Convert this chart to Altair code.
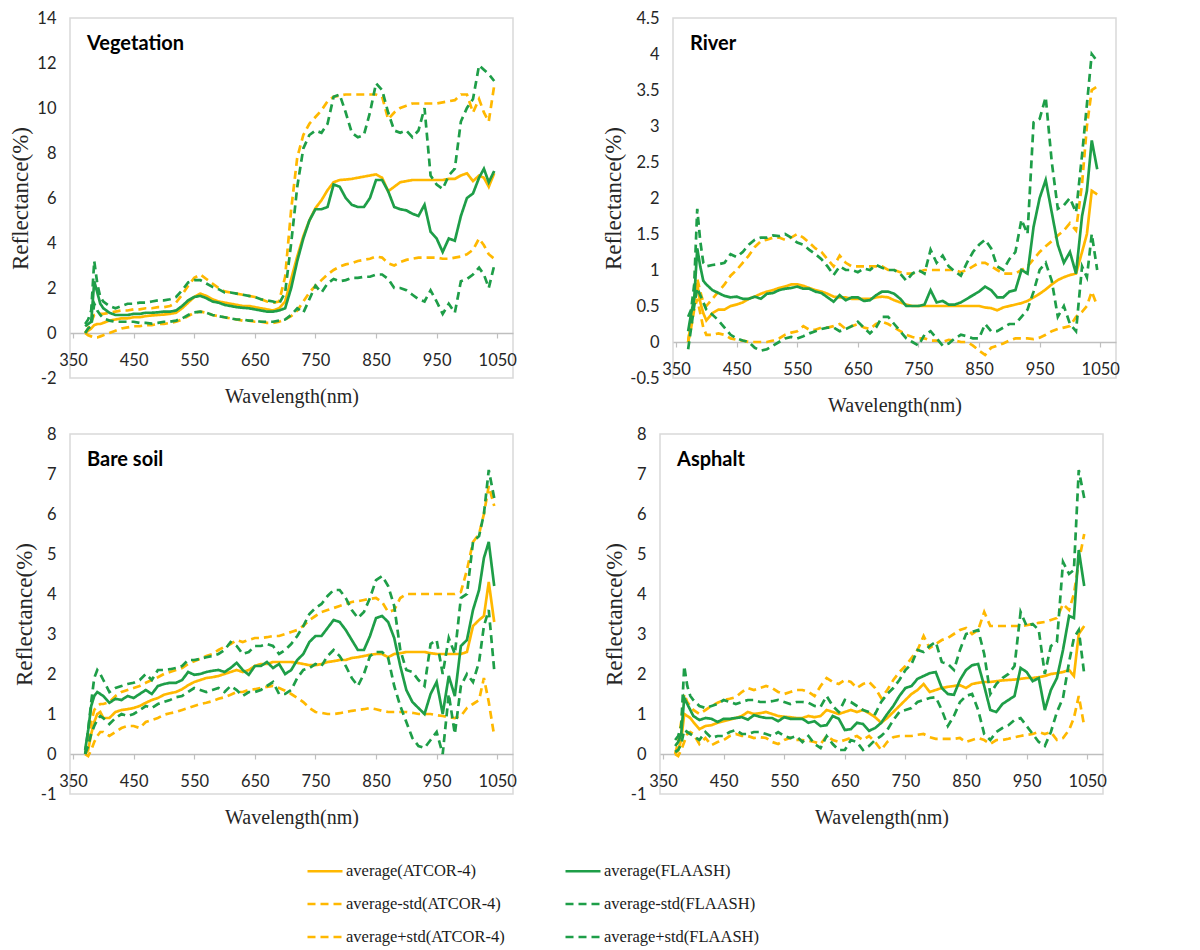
import altair as alt
import pandas as pd

# ---------------- data ----------------
WL = [370, 375, 380, 385, 390, 395, 400, 410, 420, 430, 440, 450,
      460, 470, 480, 490, 500, 510, 520, 530, 540, 550, 560, 570,
      580, 590, 600, 610, 620, 630, 640, 650, 660, 670, 680, 690,
      700, 710, 720, 730, 740, 750, 760, 770, 780, 790, 800, 810,
      820, 830, 840, 850, 860, 870, 880, 890, 900, 910, 920, 930,
      940, 950, 960, 970, 980, 990, 1000, 1010, 1020, 1028, 1036, 1045]

SERIES = ["average(ATCOR-4)", "average-std(ATCOR-4)", "average+std(ATCOR-4)",
          "average(FLAASH)", "average-std(FLAASH)", "average+std(FLAASH)"]
COLORS = ["#FFB800", "#FFB800", "#FFB800", "#1E9E48", "#1E9E48", "#1E9E48"]
DASHES = [[1, 0], [8, 5], [8, 5], [1, 0], [8, 5], [8, 5]]

PANELS = ["Vegetation", "River", "Bare soil", "Asphalt"]

# Vegetation
veg_atcor_avg = [0.0, 0.1, 0.2, 0.35, 0.4, 0.4, 0.45, 0.55, 0.6, 0.65, 0.65, 0.7,
                 0.7, 0.75, 0.78, 0.8, 0.82, 0.85, 0.9, 1.1, 1.35, 1.6, 1.75, 1.65,
                 1.5, 1.4, 1.35, 1.3, 1.25, 1.2, 1.2, 1.15, 1.1, 1.05, 1.0, 1.1,
                 1.4, 2.4, 3.4, 4.3, 5.0, 5.55, 5.9, 6.35, 6.7, 6.8, 6.82, 6.85,
                 6.9, 6.95, 7.0, 7.05, 6.9, 6.3, 6.5, 6.7, 6.75, 6.8, 6.8, 6.8,
                 6.8, 6.8, 6.8, 6.85, 6.85, 7.0, 7.1, 6.75, 7.0, 6.9, 6.5, 7.1]
veg_atcor_lo = [0.0, -0.1, -0.15, -0.2, -0.2, -0.15, -0.1, 0.0, 0.1, 0.2, 0.25, 0.3,
                0.3, 0.35, 0.35, 0.4, 0.4, 0.45, 0.5, 0.6, 0.75, 0.9, 0.95, 0.9,
                0.8, 0.75, 0.7, 0.65, 0.6, 0.55, 0.55, 0.5, 0.5, 0.45, 0.45, 0.5,
                0.6, 0.75, 1.0, 1.4, 1.8, 2.1, 2.35, 2.6, 2.8, 2.95, 3.05, 3.1,
                3.2, 3.25, 3.3, 3.4, 3.35, 3.1, 3.0, 3.15, 3.25, 3.3, 3.35, 3.35,
                3.35, 3.35, 3.3, 3.3, 3.35, 3.4, 3.5, 3.7, 4.2, 3.9, 3.5, 3.3]
veg_atcor_hi = [0.0, 0.2, 0.5, 0.8, 0.85, 0.85, 0.85, 0.9, 0.95, 1.0, 1.0, 1.05,
                1.05, 1.1, 1.1, 1.15, 1.15, 1.2, 1.35, 1.7, 2.1, 2.45, 2.6, 2.4,
                2.2, 2.0, 1.85, 1.8, 1.75, 1.7, 1.65, 1.6, 1.5, 1.4, 1.35, 1.4,
                2.5, 5.5, 7.8, 8.8, 9.3, 9.6, 9.9, 10.3, 10.5, 10.55, 10.6, 10.6,
                10.6, 10.6, 10.6, 10.6, 10.5, 9.5, 9.8, 10.0, 10.1, 10.2, 10.2, 10.2,
                10.2, 10.2, 10.25, 10.3, 10.35, 10.6, 10.6, 9.8, 10.4, 9.8, 9.4, 11.0]
veg_flaash_avg = [0.3, 0.4, 0.5, 2.3, 1.8, 1.3, 1.1, 0.9, 0.8, 0.8, 0.8, 0.85,
                  0.85, 0.9, 0.9, 0.92, 0.95, 0.95, 1.0, 1.2, 1.45, 1.6, 1.65, 1.55,
                  1.4, 1.35, 1.25, 1.2, 1.15, 1.12, 1.1, 1.05, 1.0, 0.95, 0.95, 1.0,
                  1.1, 2.0, 3.2, 4.2, 5.0, 5.5, 5.5, 5.6, 6.6, 6.5, 6.0, 5.7,
                  5.6, 5.6, 6.0, 6.8, 6.8, 6.3, 5.6, 5.5, 5.45, 5.3, 5.2, 5.7,
                  4.5, 4.2, 3.6, 4.2, 4.1, 5.2, 6.0, 6.2, 6.9, 7.3, 6.7, 7.2]
veg_flaash_lo = [0.0, 0.2, 0.3, 1.3, 1.0, 0.8, 0.65, 0.55, 0.5, 0.5, 0.5, 0.5,
                 0.45, 0.45, 0.42, 0.45, 0.5, 0.5, 0.55, 0.65, 0.8, 0.92, 0.95, 0.9,
                 0.8, 0.75, 0.7, 0.65, 0.6, 0.6, 0.55, 0.55, 0.5, 0.5, 0.5, 0.55,
                 0.6, 0.8, 1.1, 0.9, 1.5, 2.1, 1.8, 2.2, 2.4, 2.3, 2.35, 2.45,
                 2.45, 2.5, 2.5, 2.6, 2.6, 2.4, 2.0, 2.0, 1.9, 1.7, 1.5, 1.4,
                 1.9, 1.4, 0.85, 1.3, 0.9, 2.3, 2.4, 2.6, 2.9, 2.6, 2.0, 3.0]
veg_flaash_hi = [0.4, 0.6, 1.0, 3.2, 2.2, 1.6, 1.4, 1.2, 1.1, 1.2, 1.3, 1.3,
                 1.35, 1.35, 1.4, 1.45, 1.45, 1.5, 1.6, 1.9, 2.25, 2.35, 2.35, 2.2,
                 2.05, 1.95, 1.8, 1.8, 1.75, 1.7, 1.65, 1.6, 1.5, 1.45, 1.4, 1.3,
                 1.8, 4.0, 6.5, 8.2, 8.8, 9.0, 8.9, 9.3, 10.5, 10.6, 9.8, 8.9,
                 8.7, 8.8, 9.8, 11.1, 10.8, 9.8, 9.0, 8.9, 9.0, 8.7, 9.0, 10.0,
                 7.0, 6.6, 6.4, 7.0, 7.3, 9.4, 10.0, 10.4, 11.9, 11.7, 11.5, 11.2]

# River
riv_atcor_avg = [0.0, 0.3, 0.6, 0.8, 0.55, 0.4, 0.3, 0.4, 0.45, 0.45, 0.5, 0.52,
                 0.55, 0.6, 0.63, 0.67, 0.7, 0.72, 0.75, 0.77, 0.8, 0.8, 0.78, 0.75,
                 0.72, 0.7, 0.67, 0.63, 0.62, 0.62, 0.6, 0.6, 0.6, 0.6, 0.62, 0.63,
                 0.62, 0.58, 0.55, 0.52, 0.5, 0.5, 0.5, 0.5, 0.5, 0.5, 0.5, 0.5,
                 0.5, 0.5, 0.5, 0.5, 0.48, 0.47, 0.44, 0.48, 0.5, 0.52, 0.54, 0.57,
                 0.62, 0.67, 0.73, 0.8, 0.86, 0.9, 0.93, 0.95, 1.25, 1.5, 2.1, 2.05]
riv_atcor_lo = [0.0, 0.2, 0.45, 0.6, 0.4, 0.2, 0.1, 0.1, 0.12, 0.1, 0.05, 0.03,
                0.02, 0.0, 0.0, 0.0, 0.0, 0.02, 0.05, 0.1, 0.13, 0.15, 0.22, 0.17,
                0.17, 0.2, 0.2, 0.22, 0.25, 0.18, 0.22, 0.25, 0.2, 0.18, 0.25, 0.28,
                0.25, 0.2, 0.15, 0.1, 0.07, 0.05, 0.05, 0.02, 0.02, 0.0, 0.03, 0.02,
                0.0, 0.0, -0.05, -0.12, -0.18, -0.08, -0.05, -0.02, 0.02, 0.05, 0.05, 0.05,
                0.04, 0.06, 0.1, 0.15, 0.18, 0.2, 0.22, 0.35, 0.42, 0.5, 0.7, 0.5]
riv_atcor_hi = [0.0, 0.3, 0.6, 0.88, 0.7, 0.55, 0.5, 0.6, 0.7, 0.8, 0.92, 1.0,
                1.1, 1.2, 1.32, 1.4, 1.42, 1.45, 1.45, 1.42, 1.45, 1.5, 1.45, 1.38,
                1.3, 1.25, 1.15, 1.05, 1.2, 1.1, 1.05, 1.05, 1.05, 1.05, 1.05, 1.05,
                1.0, 1.0, 0.97, 0.95, 0.95, 0.97, 1.0, 1.0, 1.0, 1.0, 1.0, 1.0,
                0.97, 1.0, 1.05, 1.1, 1.1, 1.05, 1.0, 0.95, 0.95, 0.95, 1.0, 1.05,
                1.15, 1.25, 1.33, 1.4, 1.48, 1.55, 1.65, 1.55, 2.2, 3.0, 3.5, 3.55]
riv_flaash_avg = [0.15, 0.4, 0.6, 1.3, 1.05, 0.85, 0.8, 0.72, 0.68, 0.64, 0.62, 0.63,
                  0.6, 0.6, 0.63, 0.6, 0.67, 0.68, 0.72, 0.74, 0.75, 0.77, 0.74, 0.74,
                  0.7, 0.68, 0.62, 0.56, 0.65, 0.58, 0.62, 0.62, 0.57, 0.58, 0.65, 0.7,
                  0.7, 0.67, 0.6, 0.5, 0.5, 0.5, 0.52, 0.72, 0.55, 0.57, 0.52, 0.52,
                  0.55, 0.6, 0.65, 0.7, 0.77, 0.72, 0.62, 0.62, 0.7, 0.72, 1.0, 0.95,
                  1.6, 2.0, 2.25, 1.8, 1.35, 1.1, 1.25, 0.95, 1.75, 2.1, 2.8, 2.4]
riv_flaash_lo = [-0.1, 0.2, 0.5, 0.75, 0.65, 0.55, 0.45, 0.38, 0.3, 0.2, 0.1, 0.05,
                 0.02, 0.0, -0.08, -0.12, -0.1, -0.05, 0.0, 0.05, 0.07, 0.05, 0.08, 0.12,
                 0.15, 0.18, 0.2, 0.2, 0.15, 0.18, 0.22, 0.28, 0.2, 0.12, 0.2, 0.35,
                 0.35, 0.25, 0.15, 0.05, 0.0, -0.05, 0.1, 0.15, 0.05, -0.05, -0.02, 0.05,
                 0.1, 0.08, 0.05, 0.05, 0.25, 0.15, 0.15, 0.2, 0.25, 0.25, 0.35, 0.45,
                 0.7, 1.0, 1.1, 0.85, 0.35, 0.5, 0.25, 0.15, 1.05, 0.9, 1.5, 1.0]
riv_flaash_hi = [0.35, 0.45, 0.8, 1.85, 1.4, 1.1, 1.05, 1.07, 1.08, 1.1, 1.22, 1.18,
                 1.25, 1.35, 1.42, 1.45, 1.45, 1.48, 1.47, 1.5, 1.45, 1.38, 1.35, 1.28,
                 1.22, 1.15, 1.05, 0.93, 1.05, 1.0, 1.0, 0.97, 1.02, 1.0, 1.07, 1.03,
                 1.0, 1.0, 0.95, 0.85, 0.95, 1.0, 0.95, 1.28, 1.1, 1.2, 1.05, 0.98,
                 0.92, 1.1, 1.25, 1.35, 1.42, 1.3, 1.05, 1.0, 1.15, 1.25, 1.7, 1.5,
                 3.05, 3.1, 3.4, 2.5, 1.85, 1.9, 2.0, 1.8, 2.6, 3.3, 4.0, 3.9]

# Bare soil
soil_atcor_avg = [0.0, 0.1, 0.5, 0.8, 1.0, 1.05, 0.9, 0.9, 1.05, 1.1, 1.12, 1.15,
                  1.2, 1.28, 1.35, 1.4, 1.48, 1.52, 1.55, 1.62, 1.72, 1.8, 1.85, 1.9,
                  1.92, 1.95, 2.0, 2.05, 2.1, 2.05, 2.1, 2.2, 2.25, 2.25, 2.3, 2.3,
                  2.3, 2.3, 2.28, 2.25, 2.22, 2.22, 2.25, 2.3, 2.32, 2.35, 2.35, 2.4,
                  2.42, 2.45, 2.48, 2.5, 2.5, 2.42, 2.5, 2.52, 2.55, 2.55, 2.55, 2.55,
                  2.52, 2.5, 2.5, 2.5, 2.5, 2.5, 2.55, 3.2, 3.35, 3.45, 4.3, 3.3]
soil_atcor_lo = [0.0, -0.05, 0.1, 0.3, 0.45, 0.55, 0.55, 0.45, 0.55, 0.65, 0.7, 0.7,
                 0.65, 0.8, 0.85, 0.9, 0.98, 1.02, 1.05, 1.1, 1.15, 1.2, 1.25, 1.28,
                 1.32, 1.38, 1.42, 1.48, 1.55, 1.55, 1.6, 1.62, 1.65, 1.68, 1.7, 1.65,
                 1.58, 1.5, 1.4, 1.3, 1.15, 1.05, 1.03, 1.0, 1.0, 1.02, 1.05, 1.08,
                 1.1, 1.12, 1.15, 1.12, 1.08, 1.05, 1.05, 1.05, 1.05, 1.03, 1.0, 1.0,
                 1.0, 0.97, 0.95, 0.92, 0.9, 0.95, 1.15, 1.25, 1.35, 1.9, 1.3, 0.45]
soil_atcor_hi = [0.0, 0.3, 0.8, 1.1, 1.2, 1.25, 1.25, 1.3, 1.45, 1.55, 1.6, 1.65,
                 1.7, 1.78, 1.85, 1.92, 2.0, 2.05, 2.1, 2.15, 2.25, 2.32, 2.38, 2.45,
                 2.5, 2.6, 2.68, 2.75, 2.85, 2.8, 2.85, 2.9, 2.9, 2.92, 2.95, 2.95,
                 3.0, 3.05, 3.1, 3.2, 3.35, 3.45, 3.55, 3.6, 3.65, 3.7, 3.75, 3.8,
                 3.82, 3.85, 3.88, 3.9, 3.8, 3.55, 3.6, 3.9, 4.0, 4.0, 4.0, 4.0,
                 4.0, 4.0, 4.0, 4.0, 4.0, 4.05, 4.6, 5.3, 5.5, 6.0, 6.7, 6.2]
soil_flaash_avg = [0.1, 0.6, 1.2, 1.45, 1.55, 1.5, 1.45, 1.28, 1.38, 1.35, 1.45, 1.4,
                   1.5, 1.6, 1.5, 1.7, 1.75, 1.78, 1.78, 1.85, 2.05, 1.98, 2.0, 2.05,
                   2.08, 2.1, 2.05, 2.15, 2.28, 2.1, 1.98, 2.2, 2.2, 2.3, 2.15, 2.25,
                   2.0, 2.1, 2.35, 2.5, 2.8, 2.95, 2.95, 3.15, 3.35, 3.3, 3.1, 2.85,
                   2.6, 2.6, 2.95, 3.4, 3.45, 3.3, 2.9, 2.2, 1.6, 1.3, 1.15, 1.0,
                   1.5, 1.8, 1.0, 1.95, 1.45, 2.7, 2.85, 3.6, 4.1, 4.9, 5.3, 4.2]
soil_flaash_lo = [0.0, 0.2, 0.5, 0.7, 0.85, 0.95, 0.9, 0.75, 0.9, 1.0, 0.95, 1.0,
                  1.1, 1.2, 1.15, 1.25, 1.3, 1.35, 1.42, 1.45, 1.55, 1.65, 1.6, 1.55,
                  1.6, 1.65, 1.55, 1.7, 1.6, 1.45, 1.55, 1.55, 1.6, 1.7, 1.8, 1.5,
                  1.5, 1.6, 1.9, 2.1, 2.15, 2.25, 2.2, 2.45, 2.6, 2.45, 2.2, 1.9,
                  1.7, 2.0, 2.45, 2.55, 2.55, 2.4, 1.7, 1.2, 0.8, 0.4, 0.2, 0.15,
                  0.35, 0.55, 0.0, 1.5, 0.5, 1.7, 2.0, 1.8, 2.3, 3.2, 3.6, 2.1]
soil_flaash_hi = [0.0, 0.6, 1.3, 1.9, 2.1, 2.0, 1.85, 1.55, 1.65, 1.7, 1.75, 1.78,
                  1.85, 2.0, 1.85, 2.1, 2.1, 2.12, 2.15, 2.2, 2.35, 2.35, 2.38, 2.42,
                  2.45, 2.5, 2.6, 2.8, 2.7, 2.5, 2.55, 2.7, 2.7, 2.75, 2.7, 2.5,
                  2.6, 2.75, 2.95, 3.2, 3.5, 3.65, 3.75, 3.95, 4.1, 4.1, 3.9, 3.6,
                  3.4, 3.55, 3.9, 4.35, 4.45, 4.2, 3.7, 2.6, 2.1, 2.05, 1.85, 1.7,
                  2.75, 2.85, 2.0, 2.9, 2.5, 3.9, 4.0, 5.3, 5.45, 6.0, 7.1, 6.4]

# Asphalt
asp_atcor_avg = [0.0, 0.1, 0.35, 1.0, 0.95, 0.9, 0.8, 0.62, 0.7, 0.72, 0.78, 0.82,
                 0.86, 0.9, 0.95, 1.05, 1.0, 1.02, 1.05, 1.0, 0.95, 0.93, 0.92, 0.9,
                 0.9, 0.95, 0.92, 0.95, 1.1, 1.05, 1.0, 1.05, 1.1, 1.05, 1.1, 1.02,
                 0.92, 0.78, 0.9, 1.05, 1.2, 1.35, 1.5, 1.6, 1.75, 1.55, 1.6, 1.65,
                 1.68, 1.7, 1.72, 1.65, 1.75, 1.78, 1.8, 1.8, 1.82, 1.84, 1.85, 1.86,
                 1.88, 1.9, 1.9, 1.92, 1.95, 2.0, 2.02, 2.05, 2.1, 1.95, 3.0, 3.2]
asp_atcor_lo = [0.0, -0.05, 0.1, 0.3, 0.5, 0.55, 0.5, 0.25, 0.4, 0.22, 0.3, 0.35,
                0.45, 0.5, 0.45, 0.45, 0.4, 0.42, 0.4, 0.3, 0.25, 0.35, 0.4, 0.35,
                0.35, 0.33, 0.3, 0.25, 0.45, 0.35, 0.3, 0.35, 0.4, 0.45, 0.35, 0.45,
                0.3, 0.1, 0.3, 0.42, 0.45, 0.45, 0.45, 0.48, 0.5, 0.42, 0.38, 0.38,
                0.38, 0.38, 0.4, 0.3, 0.35, 0.4, 0.35, 0.25, 0.35, 0.35, 0.38, 0.42,
                0.45, 0.48, 0.5, 0.55, 0.5, 0.55, 0.35, 0.4, 0.6, 0.9, 1.45, 0.7]
asp_atcor_hi = [0.0, 0.3, 0.8, 1.5, 1.3, 1.2, 1.1, 1.0, 1.1, 1.2, 1.28, 1.35,
                1.38, 1.42, 1.55, 1.65, 1.6, 1.65, 1.7, 1.65, 1.55, 1.5, 1.55, 1.6,
                1.6, 1.55, 1.45, 1.7, 1.9, 1.8, 1.75, 1.85, 1.8, 1.65, 1.75, 1.8,
                1.65, 1.4, 1.6, 1.85, 2.05, 2.2, 2.4, 2.6, 2.95, 2.65, 2.75, 2.85,
                2.9, 3.0, 3.1, 3.15, 3.0, 3.1, 3.55, 3.2, 3.2, 3.2, 3.2, 3.2,
                3.2, 3.22, 3.25, 3.28, 3.3, 3.35, 3.4, 3.75, 3.6, 4.0, 4.8, 5.5]
asp_flaash_avg = [0.2, 0.3, 0.5, 1.4, 1.25, 1.1, 0.95, 0.85, 0.9, 0.88, 0.8, 0.88,
                  0.88, 0.9, 0.92, 0.86, 0.97, 0.93, 0.9, 0.9, 0.82, 0.92, 0.88, 0.88,
                  0.88, 0.78, 0.82, 0.7, 0.72, 0.95, 0.88, 0.6, 0.62, 0.78, 0.75, 0.58,
                  0.65, 0.78, 1.0, 1.2, 1.45, 1.65, 1.7, 1.88, 1.95, 2.02, 2.05, 1.65,
                  1.5, 1.48, 1.85, 2.1, 2.22, 2.25, 1.7, 1.1, 1.05, 1.25, 1.35, 1.45,
                  2.15, 2.05, 1.82, 1.9, 1.1, 1.6, 1.9, 2.6, 3.45, 3.4, 5.1, 4.2]
asp_flaash_lo = [0.05, 0.1, 0.25, 0.6, 0.55, 0.5, 0.45, 0.35, 0.55, 0.4, 0.45, 0.45,
                 0.55, 0.6, 0.5, 0.5, 0.55, 0.55, 0.5, 0.45, 0.55, 0.45, 0.4, 0.45,
                 0.3, 0.45, 0.25, 0.15, 0.45, 0.25, 0.1, 0.1, 0.35, 0.3, 0.1, 0.2,
                 0.35, 0.45, 0.6, 0.85, 1.05, 1.1, 1.15, 1.3, 1.35, 1.4, 1.42, 1.1,
                 0.7, 0.95, 1.3, 1.45, 1.5, 1.1, 0.5, 0.35, 0.55, 0.65, 0.72, 0.85,
                 0.9, 0.7, 0.5, 0.3, 0.2, 0.55, 1.05, 1.4, 2.3, 2.9, 3.1, 2.0]
asp_flaash_hi = [0.35, 0.45, 0.7, 2.2, 1.7, 1.45, 1.35, 1.2, 1.15, 1.2, 1.25, 1.35,
                 1.3, 1.25, 1.3, 1.35, 1.35, 1.3, 1.3, 1.32, 1.35, 1.3, 1.25, 1.3,
                 1.3, 1.28, 1.2, 1.18, 1.45, 1.2, 1.05, 1.35, 1.3, 1.2, 1.1, 1.05,
                 1.0, 1.3, 1.5, 1.65, 1.85, 2.1, 2.25, 2.6, 2.55, 2.7, 2.8, 2.3,
                 2.25, 2.1, 2.6, 3.0, 3.05, 3.1, 2.5, 1.5, 1.75, 1.9, 2.0, 2.2,
                 3.55, 3.2, 3.25, 3.1, 2.0, 2.7, 2.8, 4.8, 4.5, 4.6, 7.1, 6.4]

PANEL_SERIES = {
    "Vegetation": [veg_atcor_avg, veg_atcor_lo, veg_atcor_hi, veg_flaash_avg, veg_flaash_lo, veg_flaash_hi],
    "River": [riv_atcor_avg, riv_atcor_lo, riv_atcor_hi, riv_flaash_avg, riv_flaash_lo, riv_flaash_hi],
    "Bare soil": [soil_atcor_avg, soil_atcor_lo, soil_atcor_hi, soil_flaash_avg, soil_flaash_lo, soil_flaash_hi],
    "Asphalt": [asp_atcor_avg, asp_atcor_lo, asp_atcor_hi, asp_flaash_avg, asp_flaash_lo, asp_flaash_hi],
}
Y_DOMAINS = {"Vegetation": (-2, 14), "River": (-0.5, 4.5), "Bare soil": (-1, 8), "Asphalt": (-1, 8)}
Y_TICKS = {
    "Vegetation": [-2, 0, 2, 4, 6, 8, 10, 12, 14],
    "River": [-0.5, 0, 0.5, 1, 1.5, 2, 2.5, 3, 3.5, 4, 4.5],
    "Bare soil": [-1, 0, 1, 2, 3, 4, 5, 6, 7, 8],
    "Asphalt": [-1, 0, 1, 2, 3, 4, 5, 6, 7, 8],
}
X_TICKS = [350, 450, 550, 650, 750, 850, 950, 1050]

rows = []
for p in PANELS:
    for s, vals in zip(SERIES, PANEL_SERIES[p]):
        assert len(vals) == len(WL), (p, s, len(vals))
        for w, v in zip(WL, vals):
            rows.append({"panel": p, "series": s, "wl": w, "value": v,
                         "group": "ATCOR" if "ATCOR" in s else "FLAASH"})
df = pd.DataFrame(rows)

# ---------------- chart ----------------
W, H = 443, 360
SERIF = "Liberation Serif"
SANS = "Lato"

legend = alt.Legend(title=None, orient="none", legendX=236, legendY=834, columns=2,
                    symbolType="stroke", symbolStrokeWidth=2.5, symbolSize=1225,
                    labelFont=SERIF, labelFontSize=16.5, labelColor="#1a1a1a",
                    rowPadding=5, columnPadding=55, labelOffset=2, labelLimit=400)


def panel(name):
    ymin, ymax = Y_DOMAINS[name]
    off = -H * (0 - ymin) / (ymax - ymin)
    enc = dict(
        x=alt.X("wl:Q", scale=alt.Scale(domain=[345, 1076], nice=False, zero=False),
                axis=alt.Axis(values=X_TICKS, title="Wavelength(nm)", offset=off,
                              domain=True, domainColor="#bfbfbf", domainWidth=1.5,
                              ticks=True, tickColor="#bfbfbf", tickSize=5, tickWidth=1.2,
                              labelPadding=14, titlePadding=18, titleFontSize=20,
                              labelOverlap=False, labelFlush=False,
                              labelExpr="datum.value + ''")),
        y=alt.Y("value:Q", scale=alt.Scale(domain=[ymin, ymax], nice=False, zero=False),
                axis=alt.Axis(values=Y_TICKS[name], title="Reflectance(%)",
                              domain=False, ticks=False, labelPadding=14,
                              titlePadding=4, titleFontSize=23,
                              labelOverlap=False, labelFlush=False,
                              labelExpr="datum.value + ''")),
        color=alt.Color("series:N", scale=alt.Scale(domain=SERIES, range=COLORS), legend=legend),
        strokeDash=alt.StrokeDash("series:N", scale=alt.Scale(domain=SERIES, range=DASHES), legend=legend),
        order=alt.Order("wl:Q"),
    )
    title = alt.TitleParams(name, anchor="start", frame="group", font=SANS, fontSize=20,
                            fontWeight="bold", color="#000000", baseline="alphabetic",
                            offset=0, dx=17, dy=60)
    d = df[df.panel == name]
    orange = alt.Chart(d[d.group == "ATCOR"]).mark_line(strokeWidth=2.7).encode(**enc)
    green = alt.Chart(d[d.group == "FLAASH"]).mark_line(strokeWidth=2.7).encode(**enc)
    return alt.layer(orange, green, title=title).properties(width=W, height=H)


top = alt.hconcat(panel("Vegetation"), panel("River"), spacing=84)
bottom = alt.hconcat(panel("Bare soil"), panel("Asphalt"), spacing=84)

chart = alt.vconcat(top, bottom, spacing=8).properties(
    padding={"left": 1, "top": 1, "right": 5, "bottom": 5}
).configure_view(stroke="#d9d9d9", strokeWidth=1.5).configure_axis(
    grid=False, labelFont=SANS, labelFontSize=16.5, labelColor="#262626",
    titleFont=SERIF, titleFontWeight="normal", titleColor="#262626"
)

chart.save("out.html", embed_options={"renderer": "svg", "actions": False})
